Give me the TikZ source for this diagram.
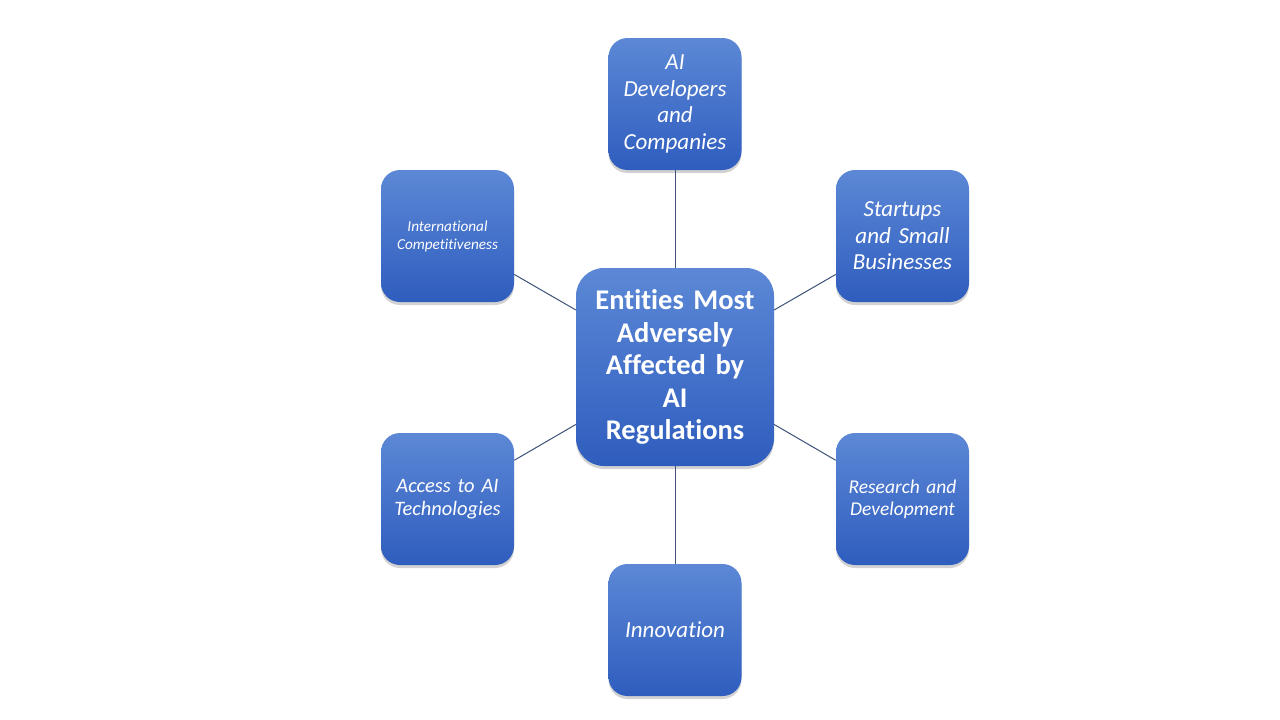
\documentclass[tikz,border=0pt]{standalone}
\usepackage{fontspec}
\setmainfont{Carlito}[RawFeature={-liga;-dlig;-clig}]
\usetikzlibrary{shadows}
\definecolor{boxtop}{RGB}{92,136,214}
\definecolor{boxbot}{RGB}{47,93,190}
\definecolor{linkc}{RGB}{62,82,122}
\tikzset{
  satbox/.style={rounded corners=19pt, top color=boxtop, bottom color=boxbot, draw=none,
    minimum width=133pt, minimum height=132pt, text width=122pt, inner sep=0pt,
    align=center, text=white, font=\itshape,
    drop shadow={opacity=0.35, shadow xshift=0pt, shadow yshift=-3pt}},
  hubbox/.style={rounded corners=28pt, top color=boxtop, bottom color=boxbot, draw=none,
    minimum width=198pt, minimum height=198pt, text width=185pt, inner sep=0pt,
    align=center, text=white, font=\bfseries\fontsize{28.5}{32.5}\selectfont,
    drop shadow={opacity=0.35, shadow xshift=0pt, shadow yshift=-3pt}},
  link/.style={draw=linkc, line width=1pt}
}
\begin{document}
\begin{tikzpicture}[x=1pt,y=-1pt]
\useasboundingbox[fill=white] (0,0) rectangle (1280,720);
\node[hubbox] (hub) at (675,367) {Entities Most\\Adversely\\Affected by\\AI\\Regulations};
\node[satbox, font=\itshape\fontsize{23}{26.5}\selectfont] (top) at (675,104) {AI\\Developers\\and\\Companies};
\node[satbox, font=\itshape\fontsize{23}{26.5}\selectfont] (tr) at (902.5,236) {Startups\\and Small\\Businesses};
\node[satbox, font=\itshape\fontsize{19.5}{22}\selectfont] (br) at (902.5,499) {Research and\\Development};
\node[satbox, font=\itshape\fontsize{23}{26.5}\selectfont] (bot) at (675,630) {Innovation};
\node[satbox, font=\itshape\fontsize{20.5}{23}\selectfont] (bl) at (447.5,499) {Access to AI\\Technologies};
\node[satbox, font=\itshape\fontsize{15.2}{18}\selectfont] (tl) at (447.5,236) {International\\Competitiveness};
\foreach \n in {top,tr,br,bot,bl,tl} { \draw[link] (hub) -- (\n); }
\end{tikzpicture}
\end{document}
